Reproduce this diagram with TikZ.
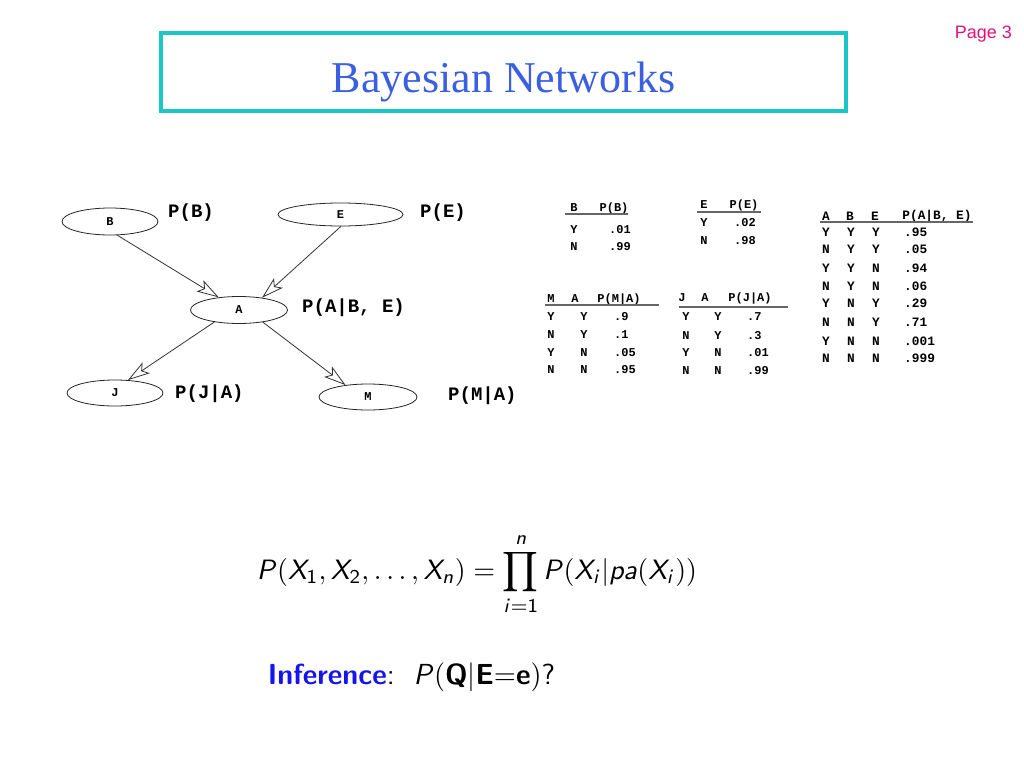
\documentclass[tikz,border=0pt]{standalone}
\usepackage{fontspec}
\usepackage{graphicx}
\usetikzlibrary{shapes.geometric,arrows.meta}
\newfontfamily\monofam{Liberation Mono}
\newfontfamily\serffam{Liberation Serif}
\newfontfamily\arialfam{Liberation Sans}
\DeclareMathAlphabet{\mathsfit}{OT1}{cmss}{m}{sl}
\DeclareMathAlphabet{\mathsfbf}{OT1}{cmss}{bx}{n}
\definecolor{titleblue}{RGB}{58,95,224}
\definecolor{boxcyan}{RGB}{26,198,198}
\definecolor{pagemag}{RGB}{222,20,122}
\definecolor{infblue}{RGB}{20,20,235}
\tikzset{
  bnode/.style={ellipse, draw=black!85, line width=0.8pt, inner sep=0pt,
    font=\monofam\bfseries\fontsize{12}{13}\selectfont},
  plabel/.style={anchor=west, inner sep=0pt, font=\monofam\bfseries\fontsize{19}{21}\selectfont},
  arr/.style={draw=black!80, line width=0.8pt,
    -{Stealth[open, length=22pt, width=13pt, inset=5pt]}},
  tcell/.style={inner sep=0pt, font=\monofam\bfseries\fontsize{12}{13}\selectfont},
  tval/.style={tcell, anchor=west},
  tcellb/.style={inner sep=0pt, font=\monofam\bfseries\fontsize{12.8}{14}\selectfont},
  tvalb/.style={tcellb, anchor=west},
  tline/.style={draw=black!60, line width=1.3pt}
}
\begin{document}
\begin{tikzpicture}[x=1pt,y=-1pt]
\useasboundingbox[fill=white] (0,0) rectangle (1024,768);
% title
\node[draw=boxcyan, line width=4pt, minimum width=685pt, minimum height=78pt, inner sep=0pt] (titlebox) at (503.5,72) {};
\node[anchor=base, text=titleblue, font=\serffam\fontsize{44}{48}\selectfont, inner sep=0pt] (title) at (503.5,92) {Bayesian Networks};
\node[anchor=base east, text=pagemag, font=\arialfam\fontsize{18}{20}\selectfont, inner sep=0pt] (page) at (1012,38) {Page 3};
% network
\node[bnode, minimum width=96pt, minimum height=27pt] (B) at (110,221.5) {B};
\node[bnode, minimum width=125pt, minimum height=23pt] (E) at (340.5,214.5) {E};
\node[bnode, minimum width=97pt, minimum height=27pt] (A) at (239,310) {A};
\node[bnode, minimum width=96pt, minimum height=26pt] (J) at (115,393) {J};
\node[bnode, minimum width=98pt, minimum height=26pt] (M) at (368,397) {M};
\draw[arr] (B.-62) -- (A.148);
\draw[arr] (E.-88) -- (A.28);
\draw[arr] (A.-154) -- (J.45);
\draw[arr] (A.-27) -- (M.152);
\node[plabel] (pB) at (168,213) {P(B)};
\node[plabel] (pE) at (420,213) {P(E)};
\node[plabel] (pA) at (302,308) {P(A|B, E)};
\node[plabel] (pJ) at (175,394) {P(J|A)};
\node[plabel] (pM) at (448,396) {P(M|A)};
% table B
\node[tcell] (tBh1) at (574,208) {B};
\node[tcell] (tBh2) at (614,208) {P(B)};
\coordinate (tBl1) at (565,214); \coordinate (tBl2) at (628,214);
\draw[tline] (tBl1) -- (tBl2);
\node[tcell] (tBr1a) at (574,230) {Y}; \node[tcell] (tBr1b) at (620,230) {.01};
\node[tcell] (tBr2a) at (574,247) {N}; \node[tcell] (tBr2b) at (620,247) {.99};
% table E
\node[tcell] (tEh1) at (704,205) {E};
\node[tcell] (tEh2) at (744,205) {P(E)};
\coordinate (tEl1) at (697,212); \coordinate (tEl2) at (761,212);
\draw[tline] (tEl1) -- (tEl2);
\node[tcell] (tEr1a) at (704,223) {Y}; \node[tcell] (tEr1b) at (745,223) {.02};
\node[tcell] (tEr2a) at (704,241) {N}; \node[tcell] (tEr2b) at (745,241) {.98};
% table M
\node[tcell] (tMh1) at (551,299) {M};
\node[tcell] (tMh2) at (575,299) {A};
\node[tcell] (tMh3) at (619,299) {P(M|A)};
\coordinate (tMl1) at (545,305); \coordinate (tMl2) at (659,305);
\draw[tline] (tMl1) -- (tMl2);
\foreach \a/\b/\v/\y [count=\i] in {Y/Y/.9/317, N/Y/.1/335, Y/N/.05/353, N/N/.95/370}{
  \node[tcell] (tM\i a) at (551,\y) {\a};
  \node[tcell] (tM\i b) at (584,\y) {\b};
  \node[tval] (tM\i c) at (614,\y) {\v};
}
% table J
\node[tcell] (tJh1) at (682,298) {J};
\node[tcell] (tJh2) at (705,298) {A};
\node[tcell] (tJh3) at (750,298) {P(J|A)};
\coordinate (tJl1) at (679,307); \coordinate (tJl2) at (788,307);
\draw[tline] (tJl1) -- (tJl2);
\foreach \a/\b/\v/\y [count=\i] in {Y/Y/.7/317, N/Y/.3/336, Y/N/.01/353, N/N/.99/371}{
  \node[tcell] (tJ\i a) at (686,\y) {\a};
  \node[tcell] (tJ\i b) at (718,\y) {\b};
  \node[tval] (tJ\i c) at (747,\y) {\v};
}
% table A
\node[tcellb] (tAh1) at (826,216) {A};
\node[tcellb] (tAh2) at (850,216) {B};
\node[tcellb] (tAh3) at (875,216) {E};
\node[tcellb] (tAh4) at (937,216) {P(A|B, E)};
\coordinate (tAl1) at (820,222); \coordinate (tAl2) at (973,222);
\draw[tline] (tAl1) -- (tAl2);
\foreach \a/\b/\e/\v/\y [count=\i] in {Y/Y/Y/.95/232, N/Y/Y/.05/249, Y/Y/N/.94/268, N/Y/N/.06/286, Y/N/Y/.29/303, N/N/Y/.71/322, Y/N/N/.001/341, N/N/N/.999/358}{
  \node[tcellb] (tA\i a) at (826,\y) {\a};
  \node[tcellb] (tA\i b) at (851,\y) {\b};
  \node[tcellb] (tA\i c) at (876,\y) {\e};
  \node[tvalb] (tA\i d) at (904,\y) {\v};
}
% formula
\node[inner sep=0pt] (formula) at (477,574) {\resizebox{440pt}{!}{$\displaystyle
  \mathsfit{P}(\mathsfit{X}_{\mathsf{1}},\mathsfit{X}_{\mathsf{2}},\ldots,\mathsfit{X}_{\mathsfit{n}})
  = \prod_{\mathsfit{i}=\mathsf{1}}^{\mathsfit{n}}
  \mathsfit{P}(\mathsfit{X}_{\mathsfit{i}}|\mathsfit{pa}(\mathsfit{X}_{\mathsfit{i}}))$}};
\node[inner sep=0pt] (infer) at (411.5,677.5) {\resizebox*{287pt}{29pt}{{\color{infblue}\sffamily\bfseries Inference}{\sffamily:}\ \ $\mathsfit{P}(\mathsfbf{Q}|\mathsfbf{E}{=}\mathsfbf{e})$\textsf{?}}};
\end{tikzpicture}
\end{document}
